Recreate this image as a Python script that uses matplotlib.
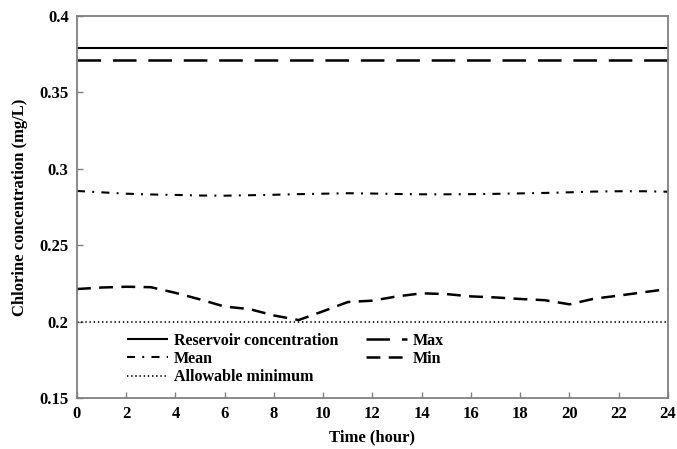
import matplotlib
matplotlib.use("Agg")
import matplotlib.pyplot as plt

plt.rcParams["font.family"] = ["Liberation Serif", "DejaVu Serif"]
plt.rcParams["font.weight"] = "bold"
plt.rcParams["lines.scale_dashes"] = False

# Hourly chlorine concentrations (mg/L)
hours = list(range(25))
reservoir = [0.379] * 25
max_conc = [0.3715] * 25
mean_conc = [0.2855, 0.2846, 0.2837, 0.2832, 0.2829, 0.2825, 0.2824, 0.2827,
             0.2830, 0.2834, 0.2837, 0.2840, 0.2838, 0.2835, 0.2833, 0.2833,
             0.2834, 0.2836, 0.2839, 0.2842, 0.2846, 0.2851, 0.2853, 0.2853,
             0.2850]
min_conc = [0.2213, 0.2223, 0.2228, 0.2225, 0.2188, 0.2145, 0.2098, 0.2082,
            0.2040, 0.2010, 0.2068, 0.2128, 0.2137, 0.2165, 0.2185, 0.2180,
            0.2165, 0.2158, 0.2148, 0.2140, 0.2113, 0.2150, 0.2170, 0.2192,
            0.2213]
allowable_min = [0.2] * 25

x_ticks = list(range(0, 25, 2))
y_ticks = [0.15, 0.2, 0.25, 0.3, 0.35, 0.4]
y_tick_labels = ["0.15", "0.2", "0.25", "0.3", "0.35", "0.4"]

fig = plt.figure(figsize=(6.77, 4.49), dpi=100)
ax = fig.add_axes([0.1137, 0.1136, 0.8730, 0.8508])

lw = 1.5
h_res, = ax.plot(hours, reservoir, color="black", lw=lw, solid_capstyle="butt",
                 label="Reservoir concentration")
h_max, = ax.plot(hours, max_conc, color="black", lw=lw + 0.3,
                 dashes=(17, 8.5), label="Max")
h_mean, = ax.plot(hours, mean_conc, color="black", lw=lw,
                  dashes=(5.8, 5.2, 1.4, 5.2), label="Mean")
h_min, = ax.plot(hours, min_conc, color="black", lw=lw + 0.3,
                 dashes=(10, 6), label="Min")
h_allow, = ax.plot(hours, allowable_min, color="black", lw=1.2,
                   dashes=(1, 2), label="Allowable minimum")

ax.set_xlim(0, 24)
ax.set_ylim(0.15, 0.4)
ax.set_xticks(x_ticks)
ax.set_xticklabels([str(t) for t in x_ticks])
ax.set_yticks(y_ticks)
ax.set_yticklabels(y_tick_labels)

for s in ax.spines.values():
    s.set_color("#808080")
    s.set_linewidth(1.3)
ax.tick_params(direction="in", length=4, width=1, color="#808080",
               labelsize=12, pad=6)
for lab in ax.get_xticklabels() + ax.get_yticklabels():
    lab.set_fontweight("bold")

ax.set_xlabel("Time (hour)", fontsize=12, fontweight="bold", labelpad=5)
ax.set_ylabel("Chlorine concentration (mg/L)", fontsize=12,
              fontweight="bold", labelpad=8)

leg = ax.legend([h_res, h_mean, h_allow, h_max, h_min],
                ["Reservoir concentration", "Mean", "Allowable minimum",
                 "Max", "Min"],
                ncol=2, frameon=False, loc="upper left",
                bbox_to_anchor=(0.073, 0.188), fontsize=11.5,
                handlelength=2.6, handletextpad=0.35, labelspacing=0.15,
                columnspacing=1.75, borderaxespad=0)
for t in leg.get_texts():
    t.set_fontweight("bold")

fig.savefig("out.png", dpi=100)
